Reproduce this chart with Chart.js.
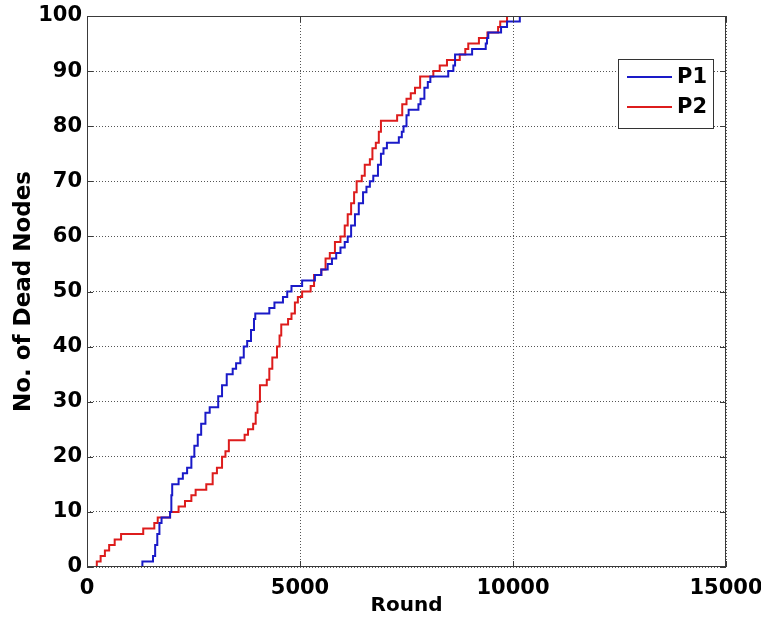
<!DOCTYPE html>
<html>
<head>
<meta charset="utf-8">
<script src="https://cdn.jsdelivr.net/npm/chart.js@4/dist/chart.umd.min.js"></script>
<style>
    html, body { margin: 0; padding: 0; background: #fff; }
    #wrap { width: 761px; height: 624px; }
</style>
</head>
<body>
<div id="wrap"><canvas id="myChart" width="761" height="624"></canvas></div>
<script>
// dead node counts (round where the count steps up, count)
const p1Rounds = [0, 1300, 1550, 1600, 1650, 1700, 1750, 1950, 1980, 2000, 2150, 2250, 2350, 2450, 2520, 2600, 2680, 2780, 2880, 3080, 3170, 3280, 3420, 3500, 3600, 3680, 3760, 3850, 3920, 3950, 4280, 4400, 4600, 4700, 4800, 5050, 5350, 5500, 5650, 5750, 5850, 5950, 6050, 6120, 6200, 6290, 6380, 6480, 6560, 6640, 6720, 6830, 6900, 6960, 7040, 7320, 7390, 7430, 7500, 7550, 7780, 7830, 7920, 8000, 8060, 8480, 8600, 8640, 9040, 9360, 9390, 9420, 9720, 9860, 10160, 10250];
const p1Dead   = [0, 1, 2, 4, 6, 8, 9, 10, 13, 15, 16, 17, 18, 20, 22, 24, 26, 28, 29, 31, 33, 35, 36, 37, 38, 40, 41, 43, 45, 46, 47, 48, 49, 50, 51, 52, 53, 54, 55, 56, 57, 58, 59, 60, 62, 64, 66, 68, 69, 70, 71, 73, 75, 76, 77, 78, 79, 80, 82, 83, 84, 85, 87, 88, 89, 90, 91, 93, 94, 95, 96, 97, 98, 99, 100, 100];

const p2Rounds = [0, 230, 320, 420, 520, 650, 800, 1320, 1580, 1660, 1950, 2150, 2300, 2450, 2550, 2800, 2950, 3050, 3170, 3250, 3330, 3700, 3780, 3900, 3960, 4000, 4060, 4220, 4280, 4350, 4460, 4520, 4560, 4720, 4800, 4880, 4950, 5050, 5250, 5330, 5500, 5600, 5700, 5820, 5950, 6050, 6120, 6200, 6270, 6330, 6450, 6520, 6640, 6700, 6780, 6850, 6900, 7280, 7400, 7500, 7600, 7700, 7820, 8130, 8280, 8450, 8750, 8880, 8950, 9200, 9400, 9650, 9700, 9860, 9950];
const p2Dead   = [0, 1, 2, 3, 4, 5, 6, 7, 8, 9, 10, 11, 12, 13, 14, 15, 17, 18, 20, 21, 23, 24, 25, 26, 28, 30, 33, 34, 36, 38, 40, 42, 44, 45, 46, 48, 49, 50, 51, 53, 54, 56, 57, 59, 60, 62, 64, 66, 68, 70, 71, 73, 74, 76, 77, 79, 81, 82, 84, 85, 86, 87, 89, 90, 91, 92, 93, 94, 95, 96, 97, 98, 99, 100, 100];

const seriesNames = ["P1", "P2"];
const xMin = 0, xMax = 15000, xStep = 5000;
const yMin = 0, yMax = 100, yStep = 10;

const boldFont = "'DejaVu Sans', sans-serif";

function toPoints(xs, ys)
{
    return xs.map((x, i) => ({x: x, y: ys[i]}));
}

// box, inward ticks and legend drawn like a matlab figure
const matlabFrame = {
    id: "matlabFrame",
    afterDraw(chart)
    {
        const ctx = chart.ctx;
        const area = chart.chartArea;
        const xs = chart.scales.x;
        const ys = chart.scales.y;
        const tickLen = 6;

        ctx.save();
        ctx.strokeStyle = "#3a3a3a";
        ctx.lineWidth = 1;
        ctx.strokeRect(area.left + 0.5, area.top + 0.5, area.right - area.left - 1, area.bottom - area.top - 1);

        ctx.beginPath();
        for (let v = xMin; v <= xMax; v += xStep)
        {
            const px = Math.round(xs.getPixelForValue(v)) + 0.5;
            ctx.moveTo(px, area.bottom); ctx.lineTo(px, area.bottom - tickLen);
            ctx.moveTo(px, area.top); ctx.lineTo(px, area.top + tickLen);
        }
        for (let v = yMin; v <= yMax; v += yStep)
        {
            const py = Math.round(ys.getPixelForValue(v)) + 0.5;
            ctx.moveTo(area.left, py); ctx.lineTo(area.left + tickLen, py);
            ctx.moveTo(area.right, py); ctx.lineTo(area.right - tickLen, py);
        }
        ctx.stroke();

        //legend
        const boxRight = area.right - 13;
        const boxLeft = boxRight - 95;
        const boxTop = area.top + 43;
        const boxBottom = boxTop + 69;
        ctx.fillStyle = "#fff";
        ctx.fillRect(boxLeft, boxTop, boxRight - boxLeft, boxBottom - boxTop);
        ctx.strokeStyle = "#333";
        ctx.strokeRect(boxLeft + 0.5, boxTop + 0.5, boxRight - boxLeft, boxBottom - boxTop);

        ctx.font = "bold 21px " + boldFont;
        ctx.textBaseline = "middle";
        ctx.textAlign = "left";
        chart.data.datasets.forEach((ds, i) =>
        {
            const rowY = boxTop + 18 + i * 30;
            ctx.strokeStyle = ds.borderColor;
            ctx.lineWidth = 2;
            ctx.beginPath();
            ctx.moveTo(boxLeft + 9, rowY);
            ctx.lineTo(boxLeft + 54, rowY);
            ctx.stroke();
            ctx.fillStyle = "#000";
            ctx.fillText(ds.label, boxLeft + 59, rowY + 1);
        });
        ctx.restore();
    }
};

window.addEventListener("load", () =>
{
    const ctx = document.getElementById("myChart").getContext("2d");
    new Chart(ctx, {
        type: "line",
        data: {
            datasets: [
                {
                    label: seriesNames[0],
                    data: toPoints(p1Rounds, p1Dead),
                    borderColor: "#1a1ac8",
                    borderWidth: 2,
                    stepped: true,
                    pointRadius: 0,
                    fill: false
                },
                {
                    label: seriesNames[1],
                    data: toPoints(p2Rounds, p2Dead),
                    borderColor: "#dd1c1c",
                    borderWidth: 2,
                    stepped: true,
                    pointRadius: 0,
                    fill: false
                }
            ]
        },
        options: {
            responsive: false,
            animation: false,
            layout: { padding: { left: 0, right: 35, top: 16, bottom: 0 } },
            plugins: {
                legend: { display: false },
                tooltip: { enabled: false }
            },
            scales: {
                x: {
                    type: "linear",
                    min: xMin,
                    max: xMax,
                    ticks: {
                        stepSize: xStep,
                        padding: 9,
                        color: "#000",
                        maxRotation: 0,
                        callback: value => String(value),
                        font: { family: boldFont, size: 21, weight: "bold" }
                    },
                    grid: { color: "#555", lineWidth: 1, drawTicks: false },
                    border: { display: false, dash: [1, 2] },
                    title: {
                        display: true,
                        text: "Round",
                        color: "#000",
                        padding: { top: 0, bottom: 6 },
                        font: { family: boldFont, size: 20, weight: "bold" }
                    },
                    afterFit: scale =>
                    {
                        scale.height = 57;
                        scale.paddingLeft = 0;
                        scale.paddingRight = 0;
                    }
                },
                y: {
                    min: yMin,
                    max: yMax,
                    ticks: {
                        stepSize: yStep,
                        padding: 5,
                        color: "#000",
                        font: { family: boldFont, size: 21, weight: "bold" }
                    },
                    grid: { color: "#555", lineWidth: 1, drawTicks: false },
                    border: { display: false, dash: [1, 2] },
                    title: {
                        display: true,
                        text: "No. of Dead Nodes",
                        color: "#000",
                        padding: { top: 10, bottom: 0 },
                        font: { family: boldFont, size: 23, weight: "bold" }
                    },
                    afterFit: scale =>
                    {
                        scale.width = 87;
                        scale.paddingTop = 0;
                        scale.paddingBottom = 0;
                    }
                }
            }
        },
        plugins: [matlabFrame]
    });
});
</script>
</body>
</html>
